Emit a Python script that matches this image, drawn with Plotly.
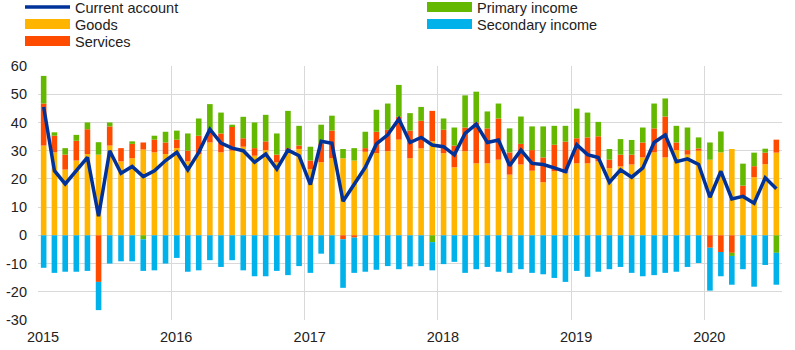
import pandas as pd
import plotly.graph_objects as go

# Monthly data, Jan 2015 - Jul 2020 (EUR billions)
months = pd.date_range("2015-01-01", periods=67, freq="MS")

goods = [31.8, 29.4, 23.3, 26.5, 28.8, 28.6, 31.8, 26.2, 27.3, 30.4, 29.4, 28.8,
         30.9, 26.2, 28.8, 32.9, 29.4, 30.0, 31.4, 28.2, 30.2, 25.9, 30.2, 30.6,
         23.5, 25.9, 27.3, 27.3, 26.5, 29.6, 29.1, 29.8, 33.9, 27.3, 30.8, 33.3,
         29.1, 24.1, 29.8, 25.5, 25.5, 26.8, 21.5, 25.1, 22.9, 18.8, 22.7, 22.0,
         25.5, 25.5, 26.2, 23.8, 24.4, 25.1, 27.6, 29.4, 27.6, 30.2, 28.6, 30.0,
         26.8, 29.4, 30.6, 13.9, 20.6, 25.2, 29.3]
services = [14.9, 5.9, 5.3, 7.0, 8.8, -16.5, 6.8, 4.7, 5.1, 2.5, 4.5, 4.1,
            3.0, 3.8, 6.5, 4.2, 6.7, 8.6, 3.0, 2.7, 3.1, 2.7, 0.7, 1.2,
            3.0, 6.7, 9.8, -1.4, -0.8, 1.3, 7.6, 7.6, 8.1, 9.8, 9.8, 10.8,
            8.3, 7.7, 8.4, 14.5, 12.4, 14.6, 7.9, 7.3, 7.3, 8.8, 9.4, 11.2,
            8.9, 9.2, 8.9, 3.0, 4.2, 3.5, 5.3, 8.5, 14.5, 2.7, 1.6, 0.8,
            -4.4, -5.9, -6.2, 3.7, 3.9, 4.1, 4.6]
primary_income = [9.8, 1.2, 2.3, 2.1, 2.4, 4.4, 1.4, 0.0, 0.9, -1.4, 1.4, 3.8,
                  3.2, 6.1, 6.1, 9.4, 7.4, 0.6, 7.6, 9.1, 9.4, 7.5, 13.2, 7.0,
                  4.9, 6.6, 5.3, 3.3, 4.4, 5.8, 7.8, 9.3, 11.3, 6.2, 4.9, -2.4,
                  4.0, 6.4, 11.4, 10.9, 6.0, 5.3, 8.5, 9.7, 8.4, 11.0, 6.7, 5.6,
                  10.5, 8.8, 5.1, 3.8, 5.5, 5.2, 5.3, 8.8, 6.4, 5.9, 8.0, 3.9,
                  6.1, 7.4, -1.1, 7.8, 4.8, 1.4, -6.2]
secondary_income = [-11.5, -13.3, -12.9, -12.9, -12.6, -10.0, -10.0, -9.2, -9.2, -11.2, -12.4, -10.0,
                    -8.0, -12.9, -12.4, -8.8, -11.2, -8.8, -12.4, -14.5, -14.5, -12.6, -14.1, -10.9,
                    -13.3, -6.5, -10.2, -17.2, -12.5, -12.9, -12.2, -10.9, -12.0, -11.0, -10.9, -10.0,
                    -10.2, -9.4, -13.3, -12.0, -11.2, -12.9, -13.3, -12.0, -13.3, -13.8, -15.1, -16.5,
                    -12.6, -14.7, -12.9, -12.0, -11.2, -13.3, -14.5, -14.1, -13.3, -12.9, -11.2, -9.8,
                    -15.2, -8.6, -10.2, -12.0, -18.2, -10.5, -11.3]
current_account = [45.5, 22.9, 18.2, 22.9, 27.6, 6.8, 30.0, 22.0, 24.4, 20.8, 22.9, 26.5,
                   29.4, 23.2, 29.4, 37.6, 32.7, 30.9, 30.0, 25.9, 28.8, 23.5, 30.2, 28.2,
                   18.0, 33.3, 32.6, 12.1, 18.0, 24.1, 32.4, 35.6, 41.2, 32.9, 34.7, 32.0,
                   31.4, 28.5, 36.1, 39.4, 32.9, 33.8, 24.7, 30.2, 25.5, 25.1, 23.9, 22.6,
                   32.1, 28.6, 27.6, 18.8, 23.2, 20.6, 23.9, 32.9, 35.6, 26.1, 27.1, 25.1,
                   13.5, 22.7, 12.9, 13.8, 11.4, 20.4, 16.5]

y_ticks = [-30, -20, -10, 0, 10, 20, 30, 40, 50, 60]
y_ticktext = ["-30", "-20", "-10", "0", "10", "20", "30", "40", "50", "60"]

COL_CA = "#003299"
COL_GOODS = "#FFB400"
COL_SERV = "#FF4B00"
COL_PRIM = "#65B800"
COL_SEC = "#00B1EA"
FONT = "Liberation Sans, Arial, sans-serif"
TXT = "#222222"
GRID = "#d9d9d9"

fig = go.Figure()

bar_series = [
    ("Goods", goods, COL_GOODS, "legend2"),
    ("Services", services, COL_SERV, "legend3"),
    ("Primary income", primary_income, COL_PRIM, "legend4"),
    ("Secondary income", secondary_income, COL_SEC, "legend5"),
]
for name, vals, col, _ in bar_series:
    fig.add_trace(go.Bar(
        x=months, y=vals, name=name, marker_color=col, marker_line_width=0,
        xperiod="M1", xperiodalignment="middle", legendgroup=name, showlegend=False,
    ))

fig.add_trace(go.Scatter(
    x=months, y=current_account, name="Current account", mode="lines",
    line=dict(color=COL_CA, width=3.5), xperiod="M1", xperiodalignment="middle",
    legendgroup="ca", legend="legend",
))

# legend proxies: wide rectangles like the reference key
for name, vals, col, lg in bar_series:
    fig.add_trace(go.Scatter(
        x=[None], y=[None], name=name, mode="lines", line=dict(color=col, width=10),
        legendgroup=name, legend=lg, showlegend=True,
    ))

W, H = 795, 350

def leg(xpx, ypx):
    return dict(x=xpx / W, y=1 - ypx / H, xref="container", yref="container",
                xanchor="left", yanchor="middle", bgcolor="rgba(0,0,0,0)",
                borderwidth=0, font=dict(family=FONT, size=14.5, color=TXT),
                itemwidth=45, itemclick="toggle")

fig.update_layout(
    width=W, height=H,
    margin=dict(l=38, r=13, t=66, b=30, autoexpand=False),
    plot_bgcolor="white", paper_bgcolor="white",
    barmode="relative", bargap=0.48,
    font=dict(family=FONT, size=14.5, color=TXT),
    legend=leg(20, 7),
    legend2=leg(20, 24),
    legend3=leg(20, 41),
    legend4=leg(422, 7),
    legend5=leg(422, 24),
    xaxis=dict(
        type="date", range=["2015-01-01", "2020-08-01"],
        tick0="2015-01-01", dtick="M12", tickformat="%Y",
        showgrid=True, gridcolor=GRID, gridwidth=1,
        showline=False, zeroline=False, ticks="",
        ticklabelshift=5, ticklabelstandoff=6,
        tickfont=dict(family=FONT, size=14.5, color=TXT),
    ),
    yaxis=dict(
        range=[-30, 60], tickmode="array", tickvals=y_ticks, ticktext=y_ticktext,
        showgrid=True, gridcolor=GRID, gridwidth=1,
        zeroline=False, showline=False, ticks="",
        ticklabelstandoff=10,
        tickfont=dict(family=FONT, size=14.5, color=TXT),
    ),
)

fig.write_html("out.html")
